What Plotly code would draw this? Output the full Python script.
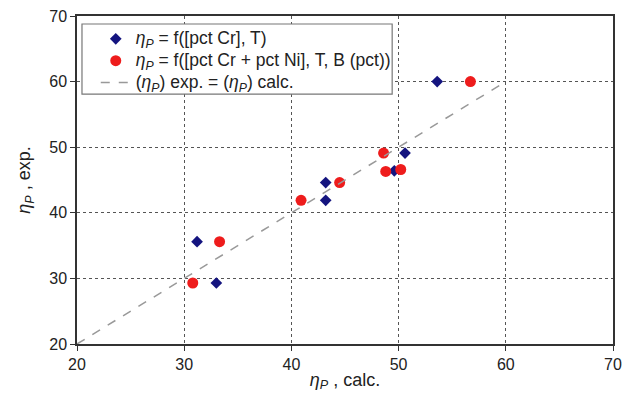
import plotly.graph_objects as go

# Data
blue_x = [31.2, 33.0, 43.2, 43.2, 49.6, 50.6, 53.6]
blue_y = [35.6, 29.3, 41.9, 44.6, 46.4, 49.1, 60.0]
red_x = [30.8, 33.3, 40.9, 44.5, 48.6, 48.8, 50.2, 56.7]
red_y = [29.3, 35.6, 41.9, 44.6, 49.1, 46.3, 46.6, 60.0]
line_x = [20, 60]
line_y = [20, 60]
tick_vals = [20, 30, 40, 50, 60, 70]

FONT = "Liberation Sans, Arial, sans-serif"
eta = "<i>η</i><sub><i>P</i></sub>"


def big(s):
    return f"<span style='font-size:17.5px'>{s}</span>"


fig = go.Figure()
fig.add_trace(go.Scatter(
    x=blue_x, y=blue_y, mode="markers",
    marker=dict(symbol="diamond", size=9, color="#14147f"),
    name=big(f"{eta} = f([pct Cr], T)")))
fig.add_trace(go.Scatter(
    x=red_x, y=red_y, mode="markers",
    marker=dict(symbol="circle", size=11, color="#ee1c1c"),
    name=big(f"{eta} = f([pct Cr + pct Ni], T, B (pct))")))
fig.add_trace(go.Scatter(
    x=line_x, y=line_y, mode="lines",
    line=dict(color="#999999", width=1.5, dash="dash"),
    name=big(f"({eta}) exp. = ({eta}) calc.")))

axis_common = dict(
    range=[20, 70], tickvals=tick_vals,
    showline=True, linecolor="#333333", linewidth=1.5, mirror=True,
    ticks="outside", ticklen=5, tickcolor="#333333",
    showgrid=True, gridcolor="#555555", griddash="dot", gridwidth=1,
    zeroline=False, automargin=False, ticklabeloverflow="allow",
    tickfont=dict(family=FONT, size=16, color="#222222"),
)
fig.update_xaxes(**axis_common,
                 title=dict(text=f"{eta} , calc.", font=dict(family=FONT, size=18, color="#222222"), standoff=1))
fig.update_yaxes(**axis_common,
                 title=dict(text=f"{eta} , exp.", font=dict(family=FONT, size=18, color="#222222"), standoff=14))

# legend frame
fig.add_shape(type="rect", xref="paper", yref="paper",
              x0=0.0093, x1=0.588, y0=0.762, y1=0.9756,
              line=dict(color="#777777", width=1.2), fillcolor="white", layer="above")

# the page body adds an 8px offset; size the figure so the plot lands where the reference's does
fig.update_layout(
    width=626, height=389,
    margin=dict(l=69, r=21, t=8, b=53, autoexpand=False),
    plot_bgcolor="white", paper_bgcolor="white",
    font=dict(family=FONT, color="#222222"),
    legend=dict(x=0.035, y=0.979, xanchor="left", yanchor="top",
                bgcolor="rgba(0,0,0,0)", borderwidth=0,
                font=dict(family=FONT, size=14.5, color="#222222"),
                tracegroupgap=0, itemwidth=30),
)

fig.write_html("out.html")
